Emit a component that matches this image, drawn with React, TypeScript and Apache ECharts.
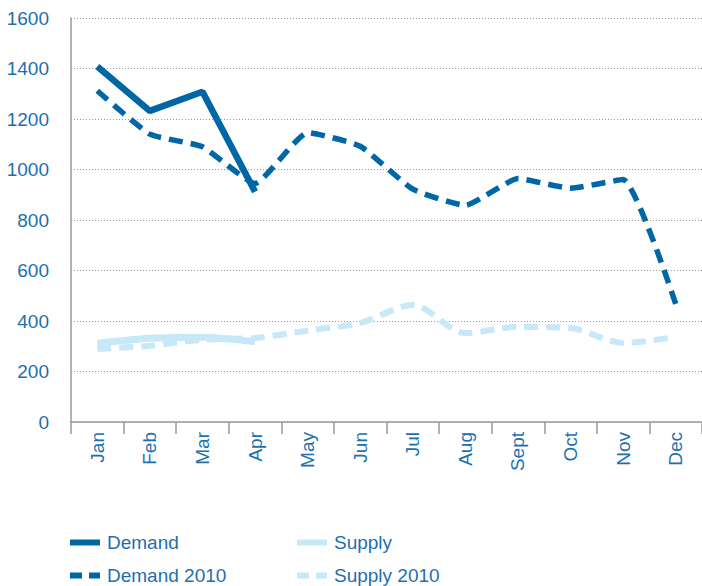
import React, { useEffect, useRef } from "react";
import * as echarts from "echarts";

const months = ["Jan", "Feb", "Mar", "Apr", "May", "Jun", "Jul", "Aug", "Sept", "Oct", "Nov", "Dec"];
const demand = [1408, 1232, 1308, 912, null, null, null, null, null, null, null, null];
const supply = [312, 332, 336, 318, null, null, null, null, null, null, null, null];
const demand2010 = [1312, 1140, 1090, 945, 1146, 1092, 922, 858, 964, 926, 960, 468];
const supply2010 = [289, 302, 326, 333, 362, 392, 463, 352, 377, 372, 313, 337];
const yTicks = { min: 0, max: 1600, interval: 200 };

const DARK = "#0067a6";
const LIGHT = "#c6e8f8";
const TEXT = "#1d6fae";
const GRAY = "#9a9a9a";
const FONT = "'Liberation Sans', Arial, Helvetica, sans-serif";
const FS = 19;

const SOLID_ICON = "path://M0 0h30v6H0z";
const DASH_ICON = "path://M0 0h12v6H0zM19 0h11v6H19z";

export default function App() {
  const ref = useRef<HTMLDivElement>(null);
  useEffect(() => {
    document.body.style.margin = "0";
    if (!ref.current) return;
    const chart = echarts.init(ref.current, null, { renderer: "svg" });
    const legendBase = (name: string, left: number, top: number, icon: string) => ({
      data: [name],
      left,
      top,
      icon,
      padding: 0,
      itemWidth: 30,
      itemHeight: 6,
      itemGap: 0,
      selectedMode: false,
      itemStyle: { borderWidth: 0 },
      textStyle: { fontSize: FS, color: TEXT, fontFamily: FONT, padding: [0, 0, 0, 2] },
    });
    chart.setOption({
      animation: false,
      textStyle: { fontFamily: FONT },
      grid: { left: 71, right: 0, top: 18, bottom: 164, containLabel: false },
      legend: [
        legendBase("Demand", 70, 533, SOLID_ICON),
        legendBase("Supply", 297, 533, SOLID_ICON),
        legendBase("Demand 2010", 70, 566, DASH_ICON),
        legendBase("Supply 2010", 297, 566, DASH_ICON),
      ],
      xAxis: {
        type: "category",
        data: months,
        boundaryGap: true,
        axisLine: { show: true, lineStyle: { color: GRAY, width: 1.5 } },
        axisTick: { show: true, length: 12, lineStyle: { color: GRAY, width: 1.5 } },
        axisLabel: { rotate: 90, fontSize: FS, color: TEXT, margin: 10, fontFamily: FONT },
        splitLine: { show: false },
      },
      yAxis: {
        type: "value",
        min: yTicks.min,
        max: yTicks.max,
        interval: yTicks.interval,
        axisLine: { show: true, lineStyle: { color: GRAY, width: 1.5 } },
        axisTick: { show: false },
        axisLabel: {
          fontSize: FS,
          color: TEXT,
          margin: 22,
          fontFamily: FONT,
          formatter: (v: number) => String(v),
        },
        splitLine: { show: true, lineStyle: { color: GRAY, width: 1, type: [1, 2] } },
      },
      series: [
        {
          name: "Supply 2010",
          type: "line",
          data: supply2010,
          symbol: "none",
          smooth: 0.3,
          color: LIGHT,
          lineStyle: { color: LIGHT, width: 6, type: [14, 8], cap: "butt" },
          z: 1,
        },
        {
          name: "Supply",
          type: "line",
          data: supply,
          symbol: "none",
          smooth: 0.3,
          color: LIGHT,
          lineStyle: { color: LIGHT, width: 7 },
          z: 2,
        },
        {
          name: "Demand 2010",
          type: "line",
          data: demand2010,
          symbol: "none",
          smooth: 0.15,
          color: DARK,
          lineStyle: { color: DARK, width: 5.5, type: [14, 8], cap: "butt" },
          z: 3,
        },
        {
          name: "Demand",
          type: "line",
          data: demand,
          symbol: "none",
          color: DARK,
          lineStyle: { color: DARK, width: 6.5 },
          z: 4,
        },
      ],
    });
    return () => chart.dispose();
  }, []);
  return <div ref={ref} style={{ width: 702, height: 586 }} />;
}
